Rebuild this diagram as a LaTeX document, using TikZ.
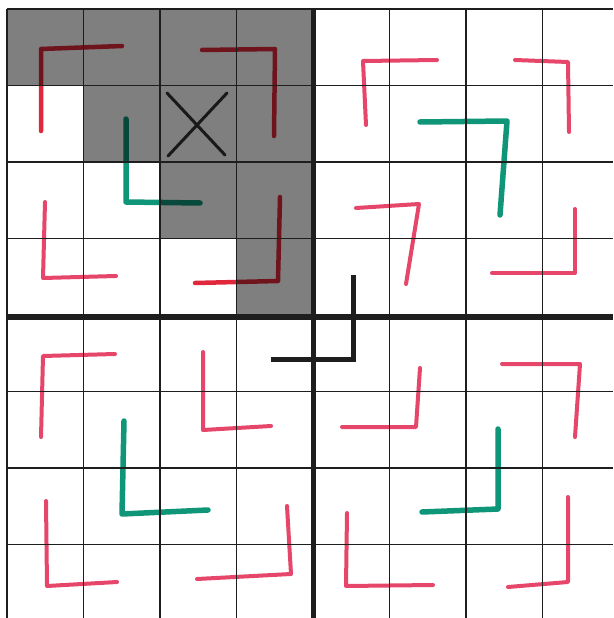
\documentclass[tikz,border=0pt]{standalone}
\usepackage{tikz}
\definecolor{penred}{HTML}{E0283C}
\definecolor{penpink}{HTML}{E5466A}
\definecolor{pengreen}{HTML}{0F9678}
\definecolor{gridc}{HTML}{1E1E1E}
\tikzset{
  redstroke/.style={draw=penred, line width=4.5pt, line cap=round, line join=round},
  pinkstroke/.style={draw=penpink, line width=4pt, line cap=round, line join=round},
  greenstroke/.style={draw=pengreen, line width=5.5pt, line cap=round, line join=round},
  shade/.style={fill=black, fill opacity=0.5},
  thinline/.style={draw=gridc, line width=1.4pt},
  thickline/.style={draw=gridc, line width=5pt},
  xmark/.style={draw=black!90, line width=3pt, line cap=round}
}
\begin{document}
\begin{tikzpicture}[x=1pt, y=-1pt]
\useasboundingbox[fill=white] (0,0) rectangle (613,618);
% pen strokes, top-left quadrant
\draw[redstroke] (122,46) -- (41,49) -- (41,131);
\draw[redstroke] (202,50) -- (275,49) -- (274,136);
\draw[greenstroke] (126,119) -- (126,202) -- (200,203);
\draw[pinkstroke] (45,202) -- (43,278) -- (116,276);
\draw[redstroke] (280,197) -- (278,281) -- (195,283);
% top-right quadrant
\draw[pinkstroke] (437,60) -- (363,61) -- (366,125);
\draw[pinkstroke] (515,60) -- (568,62) -- (569,132);
\draw[greenstroke] (420,122) -- (507,121) -- (500,215);
\draw[pinkstroke] (356,208) -- (419,204) -- (406,284);
\draw[pinkstroke] (575,209) -- (575,273) -- (492,273);
% bottom-left quadrant
\draw[pinkstroke] (115,354) -- (43,356) -- (41,437);
\draw[pinkstroke] (203,352) -- (203,430) -- (271,426);
\draw[greenstroke] (124,421) -- (122,514) -- (208,510);
\draw[pinkstroke] (46,501) -- (47,586) -- (117,582);
\draw[pinkstroke] (287,506) -- (291,574) -- (197,579);
% bottom-right quadrant
\draw[pinkstroke] (420,368) -- (416,427) -- (342,427);
\draw[pinkstroke] (502,364) -- (580,364) -- (575,437);
\draw[greenstroke] (498,429) -- (498,509) -- (422,512);
\draw[pinkstroke] (347,513) -- (346,586) -- (433,585);
\draw[pinkstroke] (568,497) -- (568,582) -- (508,587);
% shaded staircase cells
\foreach \r/\c in {0/0,0/1,0/2,0/3,1/1,1/2,1/3,2/2,2/3,3/3}{
  \path[shade] ({7+76.5*\c},{9+76.5*\r}) rectangle ++(76.5,76.5);
}
% thin grid
\foreach \k in {0,...,7}{
  \draw[thinline] ({7+76.5*\k},9) -- ({7+76.5*\k},618);
  \draw[thinline] (7,{9+76.5*\k}) -- (613,{9+76.5*\k});
}
% thick dividers
\draw[thickline] (313,9) -- (313,618);
\draw[thickline] (7,317) -- (613,317);
\draw[thickline] (353,275) -- (353,359) -- (271,359);
% cross
\draw[xmark] (167,93) -- (225,155);
\draw[xmark] (227,93) -- (168,156);
\end{tikzpicture}
\end{document}
